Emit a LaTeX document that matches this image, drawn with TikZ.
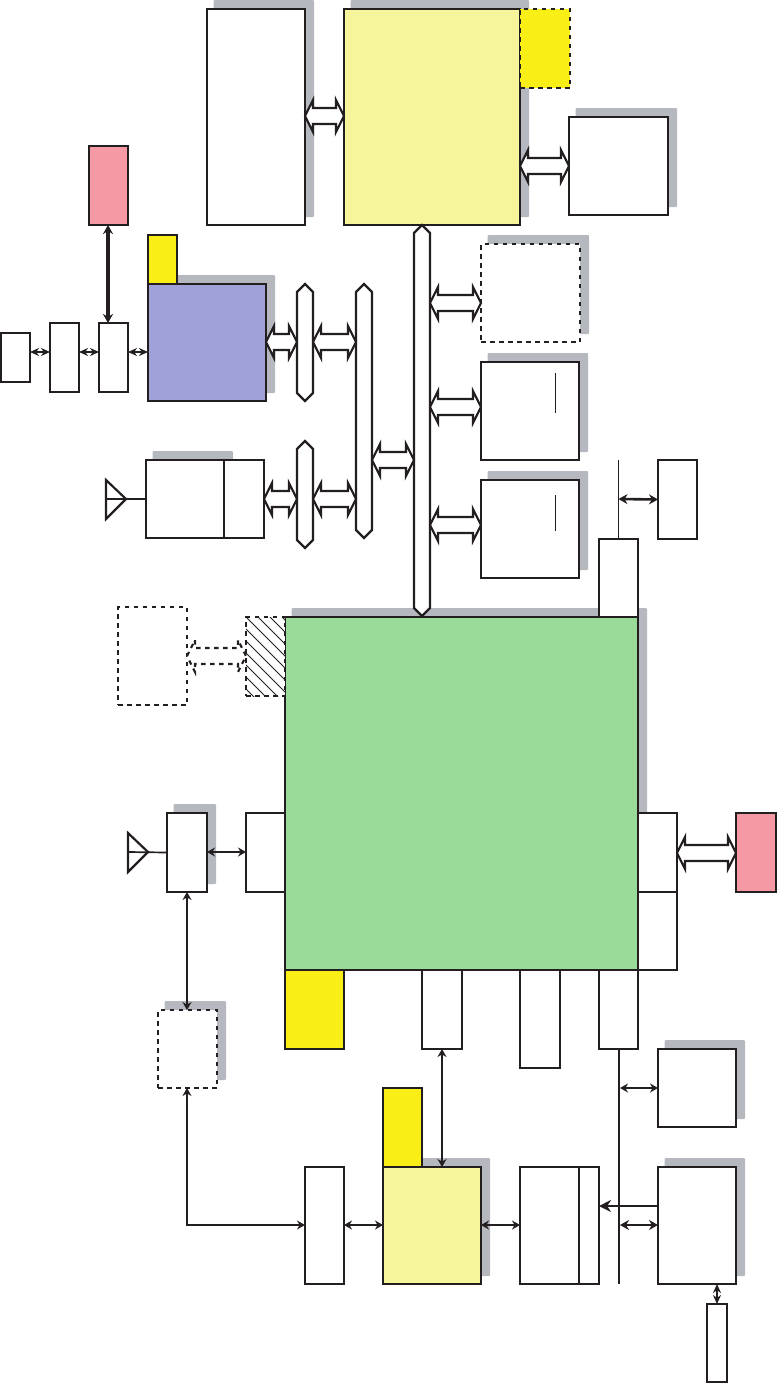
\documentclass[tikz,border=0pt]{standalone}
\usetikzlibrary{arrows.meta,calc}
\definecolor{shad}{HTML}{B5B8BF}
\definecolor{lyel}{HTML}{F6F59B}
\definecolor{syel}{HTML}{F9EE16}
\definecolor{pnk}{HTML}{F599A4}
\definecolor{blu}{HTML}{9FA1D7}
\definecolor{grn}{HTML}{9BDB9A}
\definecolor{ink}{HTML}{231F20}
\tikzset{
  blk/.style={draw=ink,line width=2.2pt,fill=white,rectangle,inner sep=0pt,outer sep=0pt},
  ghost/.style={rectangle,inner sep=0pt,outer sep=0pt},
  dsh/.style={dash pattern=on 4.5pt off 4.5pt},
  fatarrow/.style={draw=ink,line width=2.2pt,fill=white,line join=miter},
  thin2/.style={draw=ink,line width=2.2pt},
  dbl/.style={draw=ink,line width=2pt,{Stealth[length=8pt,width=9pt]}-{Stealth[length=8pt,width=9pt]}},
  dblthick/.style={draw=ink,line width=3.2pt,{Stealth[length=9pt,width=10pt]}-{Stealth[length=9pt,width=10pt]}},
  tiny/.style={draw=ink,line width=1.8pt,{Stealth[length=9pt,width=8pt]}-{Stealth[length=9pt,width=8pt]}}
}
% box: [style]{name}{x1}{y1}{x2}{y2}
\newcommand\bx[6][]{\node[blk,minimum width={(#5-#3)*1pt},minimum height={(#6-#4)*1pt},#1] (#2) at ({(#3+#5)/2},{(#4+#6)/2}) {};}
% shadow
\newcommand\shd[4]{\fill[shad,rounded corners=1pt] ({#1+6.5},{#2-9}) rectangle ({#3+9},{#4-8});}
% horizontal hollow double arrow between two named points
\newcommand\hfat[3][]{\draw[fatarrow,#1] (#2) -- ++(8,-16) -- ++(0,8) -- ($(#3)+(-8,-8)$) -- ++(0,-8) -- (#3) -- ++(-8,16) -- ++(0,-8) -- ($(#2)+(8,8)$) -- ++(0,8) -- cycle;}
% vertical hexagonal bus
\newcommand\busbox[5]{\node[ghost,minimum width={(#4-#2)*1pt},minimum height={(#5-#3)*1pt}] (#1) at ({(#2+#4)/2},{(#3+#5)/2}) {};
 \draw[fatarrow] (#1.north) -- ($(#1.north east)+(0,8)$) -- ($(#1.south east)+(0,-8)$) -- (#1.south) -- ($(#1.south west)+(0,-8)$) -- ($(#1.north west)+(0,8)$) -- cycle;}
\begin{document}
\begin{tikzpicture}[x=1pt,y=-1pt]
\useasboundingbox (0,0) rectangle (777,1384);
% ---- shadows
\shd{207}{9}{305}{225}
\shd{344}{9}{520}{225}
\shd{569}{117}{668}{215}
\shd{148}{284}{266}{401}
\shd{146}{460}{224}{500}
\shd{481}{244}{580}{342}
\shd{481}{362}{579}{460}
\shd{481}{480}{579}{578}
\shd{285}{617}{638}{970}
\shd{167}{813}{207}{892}
\shd{158}{1010}{217}{1088}
\shd{383}{1167}{481}{1284}
\shd{658}{1049}{736}{1127}
\shd{658}{1167}{736}{1284}
% ---- top row
\bx{mem}{207}{9}{305}{225}
\bx[fill=lyel]{cpu}{344}{9}{520}{225}
\bx[fill=syel,dsh]{cpuy}{520}{9}{570}{88}
\bx{topr}{569}{117}{668}{215}
\hfat{mem.east|-0,116}{cpu.west|-0,116}
\hfat{cpu.east|-0,166}{topr.west|-0,166}
% ---- left cluster
\bx[fill=pnk]{pinkt}{89}{146}{128}{225}
\bx[fill=syel]{byel}{148}{235}{177}{284}
\bx[fill=blu]{blue}{148}{284}{266}{401}
\bx{la}{1}{333}{30}{382}
\bx{lb}{50}{323}{79}{392}
\bx{lc}{99}{323}{128}{392}
\draw[tiny] (la.east|-0,352) -- (lb.west|-0,352);
\draw[tiny] (lb.east|-0,352) -- (lc.west|-0,352);
\draw[tiny] (lc.east|-0,352) -- (blue.west|-0,352);
\draw[dblthick] (pinkt.south-|108,0) -- (lc.north-|108,0);
% ---- buses
\busbox{busa}{297}{284}{313}{401}
\busbox{busb}{356}{284}{372}{538}
\busbox{busc}{297}{441}{313}{548}
\busbox{busm}{414}{225}{430}{616}
\hfat{blue.east|-0,342}{busa.west|-0,342}
\hfat{busa.east|-0,342}{busb.west|-0,342}
\hfat{busb.east|-0,460}{busm.west|-0,460}
\hfat{busc.east|-0,499}{busb.west|-0,499}
% ---- radio
\bx{radio}{146}{460}{264}{538}
\coordinate (radiot) at (224,460);
\coordinate (radiob) at (224,538);
\draw[thin2] (radiot) -- (radiob);
\hfat{radio.east|-0,499}{busc.west|-0,499}
\coordinate (anta) at (106,480);
\coordinate (antb) at (126,499);
\coordinate (antc) at (106,519);
\coordinate (antd) at (106,499);
\draw[thin2,line join=miter] (anta) -- (antb) -- (antc) -- cycle;
\draw[thin2,line width=1.7pt] (antd) -- (radio.west);
% ---- right peripherals
\bx[dsh]{pa}{481}{244}{580}{342}
\bx{pb}{481}{362}{579}{460}
\bx{pc}{481}{480}{579}{578}
\hfat{busm.east|-0,303}{pa.west|-0,303}
\hfat{busm.east|-0,407}{pb.west|-0,407}
\hfat{busm.east|-0,525}{pc.west|-0,525}
\coordinate (pbt) at (555,373);
\coordinate (pbb) at (555,413);
\coordinate (pct) at (555,495);
\coordinate (pcb) at (555,531);
\draw[ink,line width=1pt] (pbt) -- (pbb);
\draw[ink,line width=1pt] (pct) -- (pcb);
% ---- green block
\bx[fill=grn]{green}{285}{617}{638}{970}
\bx{topport}{599}{539}{638}{617}
\bx{sidebox}{658}{460}{697}{539}
\coordinate (vt) at (618.5,460);
\coordinate (vm) at (618.5,499);
\draw[thin2,line width=1.7pt] (vt) -- (topport.north);
\draw[dblthick,line width=2.6pt] (vm) -- (sidebox.west);
\bx[dsh]{hatch}{246}{617}{285}{696}
\begin{scope}
\clip (246,617) rectangle (285,696);
\foreach \k in {-8,...,3} \draw[ink,line width=.8pt] ({246+\k*12},617) -- ++(90,90);
\end{scope}
\bx[dsh]{dashl}{118}{607}{187}{705}
\hfat[dsh]{dashl.east|-0,656}{hatch.west|-0,656}
\bx{rp1}{638}{813}{677}{892}
\bx{rp2}{638}{892}{677}{970}
\bx[fill=pnk]{pinkr}{736}{813}{776}{892}
\hfat{rp1.east|-0,853}{pinkr.west|-0,853}
\bx{lp}{246}{813}{285}{892}
\bx{rf}{167}{813}{207}{892}
\draw[dbl] (rf.east|-0,852) -- (lp.west|-0,852);
\coordinate (anb) at (128,833);
\coordinate (anc) at (148,852);
\coordinate (and) at (128,872);
\coordinate (ane) at (128,852);
\draw[thin2,line join=miter] (anb) -- (anc) -- (and) -- cycle;
\draw[thin2,line width=1.7pt] (ane) -- (rf.west);
\bx[dsh]{dashs}{158}{1010}{217}{1088}
\draw[dbl] (rf.south-|187,0) -- (dashs.north-|187,0);
% ---- bottom ports
\bx[fill=syel]{gy}{285}{970}{344}{1049}
\bx{gb}{422}{970}{462}{1049}
\bx{gc}{520}{970}{560}{1068}
\bx{gd}{599}{970}{638}{1049}
% ---- bottom row
\bx{bbox}{305}{1167}{344}{1284}
\bx[fill=lyel]{bcpu}{383}{1167}{481}{1284}
\bx[fill=syel]{bcy}{383}{1088}{422}{1167}
\bx{bdev}{520}{1167}{599}{1284}
\coordinate (bdevt) at (579,1167);
\coordinate (bdevb) at (579,1284);
\draw[thin2] (bdevt) -- (bdevb);
\bx{bra}{658}{1049}{736}{1127}
\bx{brb}{658}{1167}{736}{1284}
\bx{brc}{707}{1304}{727}{1382}
\coordinate (ve) at (619,1284);
\draw[thin2] (gd.south-|619,0) -- (ve);
\coordinate (v1) at (620,1088);
\coordinate (v2) at (620,1225);
\draw[dbl] (v1) -- (bra.west|-0,1088);
\draw[dblthick,line width=2.8pt] (v2) -- (brb.west|-0,1225);
\draw[thin2,-{Stealth[length=12pt,width=12pt]}] (brb.west|-0,1206) -- (bdev.east|-0,1206);
\draw[dbl] (bdev.west|-0,1225) -- (bcpu.east|-0,1225);
\draw[dbl] (bbox.east|-0,1225) -- (bcpu.west|-0,1225);
\draw[dbl] (gb.south-|442,0) -- (bcpu.north-|442,0);
\draw[tiny] (brb.south-|717,0) -- (brc.north-|717,0);
\coordinate (elbow) at (187,1225);
\draw[draw=ink,line width=2.6pt,{Stealth[length=8pt,width=9pt]}-{Stealth[length=8pt,width=9pt]}] (dashs.south-|187,0) -- (elbow) -- (bbox.west|-0,1225);
\end{tikzpicture}
\end{document}
